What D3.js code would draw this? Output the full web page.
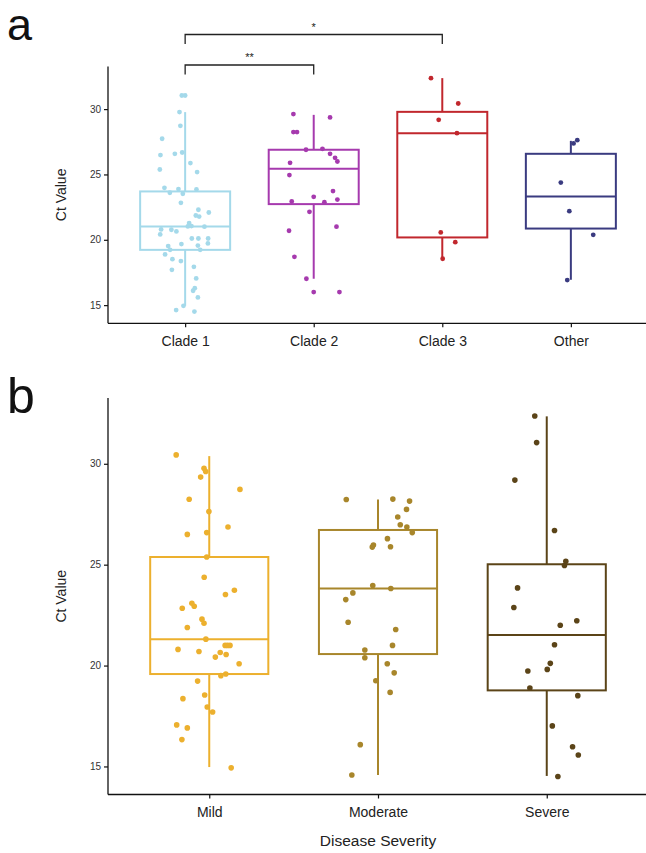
<!DOCTYPE html>
<html>
<head>
<meta charset="utf-8">
<script src="https://cdn.jsdelivr.net/npm/d3@7"></script>
<style>
  html, body { margin: 0; padding: 0; background: #fff; }
  svg { display: block; font-family: "Liberation Sans", Arial, sans-serif; }
</style>
</head>
<body>
<svg id="chart" width="646" height="853"></svg>
<script>
// ---------- Panel a data ----------
const cladeCats = ["Clade 1", "Clade 2", "Clade 3", "Other"];
const cladeColors = ["#a4d9ea", "#a63aae", "#c1272d", "#3a3b80"];
const cladeQ1  = [19.23, 22.73, 20.18, 20.86];
const cladeMed = [21.02, 25.43, 28.16, 23.31];
const cladeQ3  = [23.70, 26.89, 29.79, 26.58];
const cladeLo  = [14.95, 17.02, 18.55, 16.94];
const cladeHi  = [29.77, 29.56, 32.37, 27.57];

const clade1Vals = [31.04, 31.04, 29.77, 28.72, 27.73, 26.48, 26.58, 26.68, 25.87, 25.38, 25.18, 23.98, 23.60, 23.88, 23.52, 23.85, 22.83, 22.30, 22.09, 21.86, 21.78, 21.28, 21.02, 21.05, 21.00, 20.79, 20.77, 20.64, 20.41, 20.10, 20.10, 20.10, 19.72, 19.67, 19.52, 19.23, 19.56, 19.23, 18.88, 18.52, 18.37, 17.93, 17.70, 17.04, 16.30, 16.10, 15.59, 14.95, 14.62, 14.51];
const clade1Jit  = [-0.026, 0.000, -0.044, -0.037, -0.179, -0.192, -0.080, -0.023, 0.041, -0.197, 0.093, -0.161, -0.119, -0.052, -0.018, 0.088, -0.033, 0.103, 0.184, 0.083, 0.109, 0.031, 0.021, 0.049, 0.150, -0.187, -0.107, -0.068, -0.194, 0.052, 0.103, 0.179, 0.177, -0.029, -0.132, -0.117, 0.099, 0.117, -0.156, -0.099, -0.033, 0.068, -0.103, 0.086, 0.075, 0.062, 0.099, -0.013, -0.070, 0.072];
const clade2Vals = [29.62, 29.36, 28.24, 28.24, 26.89, 26.96, 26.58, 26.27, 25.99, 25.89, 24.95, 23.73, 23.29, 23.08, 22.93, 22.88, 22.14, 20.69, 21.00, 18.70, 17.02, 16.00, 16.00];
const clade2Jit  = [-0.158, 0.127, -0.158, -0.130, -0.060, 0.068, 0.127, 0.166, 0.184, -0.184, -0.189, 0.150, 0.000, 0.184, -0.171, 0.083, -0.033, -0.192, 0.177, -0.150, -0.057, 0.000, 0.200];
const clade3Vals = [32.37, 29.18, 30.43, 28.16, 20.56, 19.82, 18.55];
const clade3Jit  = [-0.088, -0.028, 0.124, 0.114, -0.012, 0.101, 0.003];
const otherVals  = [27.62, 27.37, 24.38, 22.19, 20.38, 16.92];
const otherJit   = [0.050, 0.021, -0.078, -0.012, 0.174, -0.028];

const sigLabels = ["**", "*"];
const sigFrom   = [0, 0];
const sigTo     = [1, 2];

// ---------- Panel b data ----------
const sevCats = ["Mild", "Moderate", "Severe"];
const sevColors = ["#ecb02e", "#a8862b", "#5b4418"];
const sevQ1  = [19.58, 20.57, 18.77];
const sevMed = [21.31, 23.82, 21.51];
const sevQ3  = [25.38, 26.72, 25.02];
const sevLo  = [14.97, 14.58, 14.53];
const sevHi  = [30.38, 28.23, 32.35];

const mildVals = [30.44, 29.78, 29.62, 29.34, 28.73, 28.24, 27.63, 26.87, 26.50, 26.59, 25.38, 24.38, 23.73, 23.52, 23.09, 22.94, 22.84, 22.30, 22.10, 21.89, 21.31, 20.80, 20.70, 21.00, 21.00, 21.00, 20.65, 20.42, 20.55, 20.09, 19.50, 19.58, 19.23, 18.54, 18.36, 17.95, 17.70, 17.06, 16.91, 16.33, 14.93];
const mildJit  = [-0.196, -0.031, -0.021, -0.051, 0.182, -0.119, -0.002, 0.111, -0.130, -0.015, -0.015, -0.030, 0.149, 0.096, -0.103, -0.089, -0.160, -0.043, -0.031, -0.130, -0.020, -0.185, -0.061, 0.094, 0.123, 0.108, 0.065, 0.036, 0.100, 0.177, 0.069, 0.098, -0.069, -0.027, -0.156, -0.012, 0.020, -0.193, -0.130, -0.162, 0.130];
const modVals  = [28.23, 28.25, 28.15, 27.74, 27.36, 26.98, 26.87, 26.59, 26.29, 25.97, 25.87, 25.89, 23.97, 23.82, 23.60, 23.27, 22.15, 21.79, 21.00, 20.77, 20.39, 20.09, 19.64, 19.25, 18.67, 16.08, 14.58];
const modJit   = [-0.188, 0.088, 0.187, 0.169, 0.117, 0.132, 0.171, 0.203, 0.056, -0.027, -0.034, 0.074, -0.031, 0.076, -0.149, -0.191, -0.177, 0.105, 0.086, -0.078, -0.078, 0.055, 0.096, -0.013, 0.072, -0.105, -0.155];
const sevVals  = [32.37, 31.05, 29.19, 26.69, 25.17, 24.96, 23.85, 22.88, 22.22, 22.00, 21.03, 20.11, 19.81, 19.73, 18.89, 18.51, 17.01, 15.98, 15.57, 14.50];
const sevJit   = [-0.071, -0.060, -0.189, 0.046, 0.113, 0.105, -0.173, -0.195, 0.178, 0.080, 0.046, 0.021, 0.003, -0.112, -0.100, 0.184, 0.033, 0.153, 0.187, 0.066];

const yTicks = [15, 20, 25, 30];
const yDomain = [13.61, 33.26];

// ---------- drawing ----------
const svg = d3.select("#chart");
const font = "'Liberation Sans', Arial, sans-serif";

function drawPanel(opt) {
  const g = svg.append("g");
  const n = opt.cats.length;
  const x = d3.scaleLinear().domain([0.4, n + 0.6]).range([opt.left, opt.right]);
  const y = d3.scaleLinear().domain(yDomain).range([opt.bottom, opt.top]);
  const bw = 0.7;

  // boxes
  opt.cats.forEach((c, i) => {
    const cx = i + 1;
    const col = opt.colors[i];
    const bg = g.append("g").attr("stroke", col).attr("fill", "none").attr("stroke-width", 2);
    bg.append("line").attr("x1", x(cx)).attr("x2", x(cx)).attr("y1", y(opt.hi[i])).attr("y2", y(opt.q3[i]));
    bg.append("line").attr("x1", x(cx)).attr("x2", x(cx)).attr("y1", y(opt.q1[i])).attr("y2", y(opt.lo[i]));
    bg.append("rect")
      .attr("x", x(cx - bw / 2)).attr("width", x(cx + bw / 2) - x(cx - bw / 2))
      .attr("y", y(opt.q3[i])).attr("height", y(opt.q1[i]) - y(opt.q3[i]));
    bg.append("line").attr("x1", x(cx - bw / 2)).attr("x2", x(cx + bw / 2))
      .attr("y1", y(opt.med[i])).attr("y2", y(opt.med[i]));
  });

  // points
  opt.cats.forEach((c, i) => {
    const vals = opt.vals[i], jit = opt.jit[i];
    g.append("g").selectAll("circle").data(vals).join("circle")
      .attr("cx", (d, k) => x(i + 1 + jit[k]))
      .attr("cy", d => y(d))
      .attr("r", opt.r)
      .attr("fill", opt.colors[i]);
  });

  // axes
  const ya = g.append("g").attr("transform", `translate(${opt.left},0)`)
    .call(d3.axisLeft(y).tickValues(yTicks).tickSize(4).tickPadding(3));
  ya.select(".domain").attr("d", `M0,${opt.top}V${opt.bottom}`).attr("stroke", "#111").attr("stroke-width", 1.3);
  ya.selectAll(".tick line").attr("stroke", "#111").attr("stroke-width", 1.2);
  ya.selectAll(".tick text").attr("font-family", font).attr("font-size", 10).attr("fill", "#333");

  const xa = g.append("g").attr("transform", `translate(0,${opt.bottom})`)
    .call(d3.axisBottom(x).tickValues(d3.range(1, n + 1)).tickFormat(d => opt.cats[d - 1]).tickSize(4).tickPadding(9));
  xa.select(".domain").attr("d", `M${opt.left},0H${opt.right}`).attr("stroke", "#111").attr("stroke-width", 1.3);
  xa.selectAll(".tick line").attr("stroke", "#111").attr("stroke-width", 1.2);
  xa.selectAll(".tick text").attr("font-family", font).attr("font-size", 14).attr("fill", "#222");

  // y title
  g.append("text")
    .attr("transform", `translate(${opt.yTitleX},${(opt.top + opt.bottom) / 2}) rotate(-90)`)
    .attr("text-anchor", "middle").attr("font-family", font).attr("font-size", 14).attr("fill", "#222")
    .text("Ct Value");

  // panel letter
  g.append("text").attr("x", opt.letterX).attr("y", opt.letterY)
    .attr("font-family", font).attr("font-size", opt.letterSize).attr("fill", "#111").text(opt.letter);

  return { g, x, y };
}

const pa = drawPanel({
  cats: cladeCats, colors: cladeColors,
  q1: cladeQ1, med: cladeMed, q3: cladeQ3, lo: cladeLo, hi: cladeHi,
  vals: [clade1Vals, clade2Vals, clade3Vals, otherVals],
  jit: [clade1Jit, clade2Jit, clade3Jit, otherJit],
  left: 108, right: 648, top: 66.5, bottom: 323.3, r: 2.4,
  yTitleX: 66, letter: "a", letterX: 7, letterY: 40, letterSize: 45
});

// significance brackets
const bracketY = [65, 34.5];
const bracketLeg = 9.5;
sigLabels.forEach((lab, i) => {
  const x1 = pa.x(sigFrom[i] + 1), x2 = pa.x(sigTo[i] + 1), yy = bracketY[i];
  pa.g.append("path")
    .attr("d", `M${x1},${yy + bracketLeg}V${yy}H${x2}V${yy + bracketLeg}`)
    .attr("fill", "none").attr("stroke", "#222").attr("stroke-width", 1.3);
  pa.g.append("text").attr("x", (x1 + x2) / 2).attr("y", yy - 4)
    .attr("text-anchor", "middle").attr("font-family", font).attr("font-size", 11).attr("fill", "#222")
    .text(lab);
});

const pb = drawPanel({
  cats: sevCats, colors: sevColors,
  q1: sevQ1, med: sevMed, q3: sevQ3, lo: sevLo, hi: sevHi,
  vals: [mildVals, modVals, sevVals],
  jit: [mildJit, modJit, sevJit],
  left: 108, right: 648, top: 398, bottom: 794.5, r: 2.8,
  yTitleX: 66, letter: "b", letterX: 7, letterY: 413, letterSize: 50
});

pb.g.append("text").attr("x", (108 + 648) / 2).attr("y", 846)
  .attr("text-anchor", "middle").attr("font-family", font).attr("font-size", 15.5).attr("fill", "#222")
  .text("Disease Severity");
</script>
</body>
</html>
